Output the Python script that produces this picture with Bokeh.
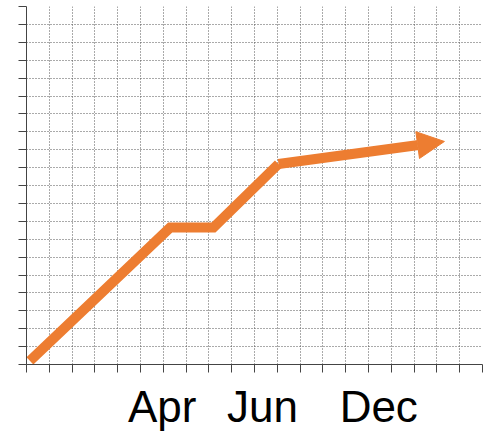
from bokeh.plotting import figure
from bokeh.models import FixedTicker, Range1d, Arrow, NormalHead, ColumnDataSource
from bokeh.embed import file_html
from bokeh.resources import INLINE

# data
line_x = [0.15, 6.3, 8.2, 11.05]
line_y = [0.2, 7.65, 7.65, 11.2]
arrow_x_start = [11.05]
arrow_y_start = [11.2]
arrow_x_end = [18.33]
arrow_y_end = [12.46]
label_x = [5.95, 10.35, 15.45]
label_text = ["Apr", "Jun", "Dec"]
grid_ticks = list(range(0, 21))

ORANGE = "#ED7D31"
AXIS = "#444444"
GRID = "#555555"

p = figure(frame_width=456, frame_height=358,
           x_range=Range1d(0, 20), y_range=Range1d(0, 20),
           output_backend="svg", toolbar_location=None,
           min_border_left=26, min_border_right=4, min_border_top=6, min_border_bottom=0)
p.outline_line_color = None
p.background_fill_color = "white"

# x axis: minor ticks at every unit, labels at month positions
xt = FixedTicker(ticks=label_x, minor_ticks=grid_ticks)
p.xaxis.ticker = xt
p.xaxis.major_label_overrides = {x: t for x, t in zip(label_x, label_text)}
p.xaxis.major_tick_line_color = None
p.xaxis.major_tick_out = 0
p.xaxis.major_tick_in = 0
p.xaxis.minor_tick_out = 8
p.xaxis.minor_tick_in = 0
p.xaxis.minor_tick_line_color = AXIS
p.xaxis.axis_line_color = AXIS
p.xaxis.major_label_standoff = 9
p.xaxis.major_label_text_font = "Liberation Sans"
p.xaxis.major_label_text_font_size = "44px"
p.xaxis.major_label_text_color = "black"

p.yaxis.ticker = FixedTicker(ticks=grid_ticks)
p.yaxis.major_label_overrides = {t: "" for t in grid_ticks}
p.yaxis.major_label_standoff = 0
p.yaxis.major_tick_out = 8
p.yaxis.major_tick_in = 0
p.yaxis.minor_tick_line_color = None
p.yaxis.major_tick_line_color = AXIS
p.yaxis.axis_line_color = AXIS

p.xgrid.grid_line_color = None
p.xgrid.minor_grid_line_color = GRID
p.xgrid.minor_grid_line_dash = "1 2"
p.ygrid.ticker = FixedTicker(ticks=grid_ticks)
p.ygrid.grid_line_color = GRID
p.ygrid.grid_line_dash = "1 2"

p.line(line_x, line_y, line_color=ORANGE, line_width=10, line_join="miter", line_cap="butt")

src = ColumnDataSource(dict(x0=arrow_x_start, y0=arrow_y_start, x1=arrow_x_end, y1=arrow_y_end))
p.add_layout(Arrow(end=NormalHead(size=27, fill_color=ORANGE, line_color=ORANGE, line_width=1),
                   x_start="x0", y_start="y0", x_end="x1", y_end="y1", source=src,
                   line_color=ORANGE, line_width=10))

open("out.html", "w").write(file_html(p, INLINE))
